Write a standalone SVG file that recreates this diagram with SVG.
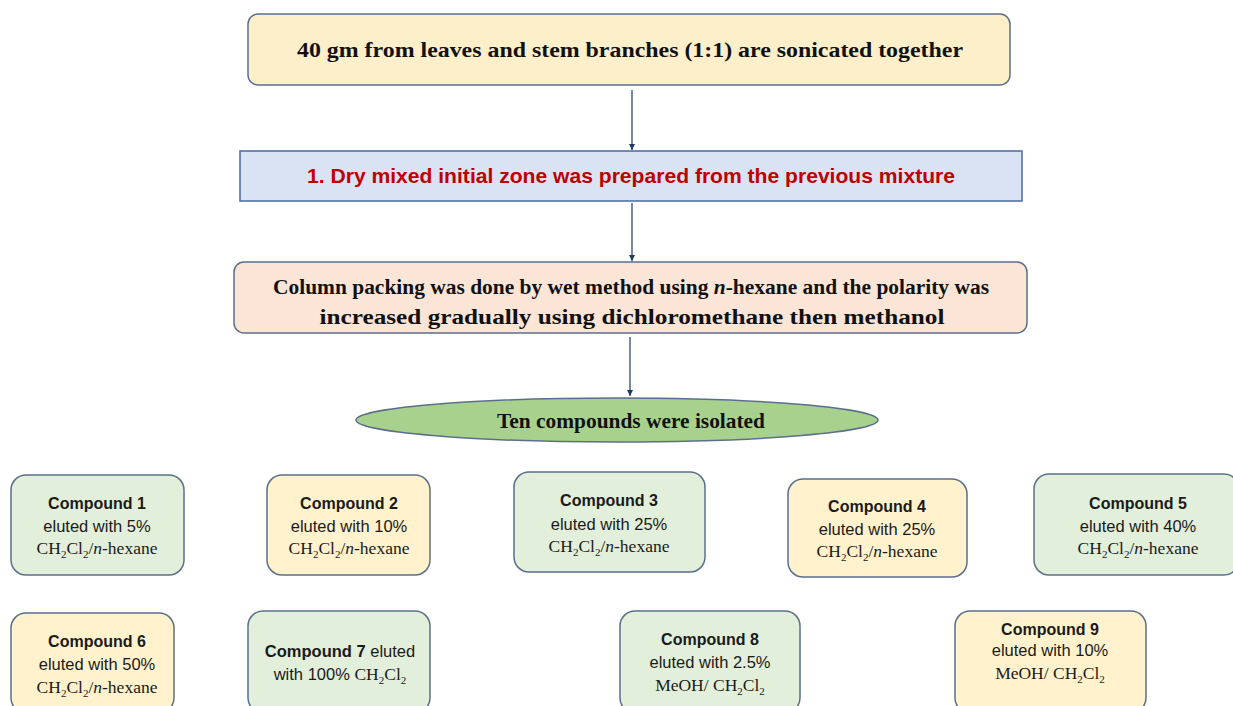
<svg xmlns="http://www.w3.org/2000/svg" width="1233" height="706" viewBox="0 0 1233 706">
<style>
.hdr{font-family:"Liberation Serif",serif;font-weight:bold;font-size:21px;fill:#111;text-anchor:middle}
.red{font-family:"Liberation Sans",sans-serif;font-weight:bold;font-size:20px;fill:#c00000;text-anchor:middle}
.cb{stroke:#5b6f8c;stroke-width:1.5}
.g{fill:#e2efda}
.y{fill:#fff2cc}
.t1{font-family:"Liberation Sans",sans-serif;font-weight:bold;font-size:16px;fill:#1a1a1a;text-anchor:middle}
.t2{font-family:"Liberation Sans",sans-serif;font-size:16.5px;fill:#1a1a1a;text-anchor:middle}
.t3{font-family:"Liberation Serif",serif;font-size:17.5px;fill:#1a1a1a;text-anchor:middle}
.s{font-size:11px}
.conn line{stroke:#1f3864;stroke-width:1.2;marker-end:url(#ah)}
</style>
<defs>
<marker id="ah" viewBox="0 0 10 10" refX="10" refY="5" markerWidth="5" markerHeight="5" orient="auto" markerUnits="strokeWidth">
<path d="M0,0 L10,5 L0,10 z" fill="#1f3864"/>
</marker>
</defs>
<rect width="1233" height="706" fill="#ffffff"/>
<g class="conn">
<line x1="632" y1="90" x2="632" y2="150"/>
<line x1="632" y1="203" x2="632" y2="261"/>
<line x1="630" y1="337" x2="630" y2="396"/>
</g>
<g id="n-start">
<rect x="248" y="14" width="762" height="71" rx="10" fill="#fdefc9" stroke="#5b6f8c" stroke-width="1.5"/>
<text class="hdr" x="630" y="57" textLength="666" lengthAdjust="spacingAndGlyphs">40 gm from leaves and stem branches (1:1) are sonicated together</text>
</g>
<g id="n-dry">
<rect x="240" y="151" width="782" height="50" fill="#dae3f3" stroke="#4a6aa0" stroke-width="1.5"/>
<text class="red" x="631" y="183" textLength="648" lengthAdjust="spacingAndGlyphs">1. Dry mixed initial zone was prepared from the previous mixture</text>
</g>
<g id="n-column">
<rect x="234" y="262" width="793" height="71" rx="10" fill="#fbe5d6" stroke="#5b6f8c" stroke-width="1.5"/>
<text class="hdr" x="631" y="294" textLength="716" lengthAdjust="spacingAndGlyphs">Column packing was done by wet method using <tspan font-style="italic">n</tspan>-hexane and the polarity was</text>
<text class="hdr" x="632" y="324" textLength="625" lengthAdjust="spacingAndGlyphs">increased gradually using dichloromethane then methanol</text>
</g>
<g id="n-ten">
<ellipse cx="617" cy="420" rx="261" ry="22" fill="#a9d18e" stroke="#5b6f8c" stroke-width="1.5"/>
<text class="hdr" x="631" y="428" textLength="268" lengthAdjust="spacingAndGlyphs">Ten compounds were isolated</text>
</g>
<g id="c1">
<rect class="cb g" x="11" y="475" width="173" height="100" rx="15"/>
<text class="t1" x="97" y="509">Compound 1</text>
<text class="t2" x="97" y="532">eluted with 5%</text>
<text class="t3" x="97" y="554">CH<tspan class="s" dy="4">2</tspan><tspan dy="-4">Cl</tspan><tspan class="s" dy="4">2</tspan><tspan dy="-4">/</tspan><tspan font-style="italic">n</tspan>-hexane</text>
</g>
<g id="c2">
<rect class="cb y" x="267" y="475" width="163" height="100" rx="15"/>
<text class="t1" x="349" y="509">Compound 2</text>
<text class="t2" x="349" y="532">eluted with 10%</text>
<text class="t3" x="349" y="554">CH<tspan class="s" dy="4">2</tspan><tspan dy="-4">Cl</tspan><tspan class="s" dy="4">2</tspan><tspan dy="-4">/</tspan><tspan font-style="italic">n</tspan>-hexane</text>
</g>
<g id="c3">
<rect class="cb g" x="514" y="472" width="191" height="100" rx="15"/>
<text class="t1" x="609" y="506">Compound 3</text>
<text class="t2" x="609" y="530">eluted with 25%</text>
<text class="t3" x="609" y="552">CH<tspan class="s" dy="4">2</tspan><tspan dy="-4">Cl</tspan><tspan class="s" dy="4">2</tspan><tspan dy="-4">/</tspan><tspan font-style="italic">n</tspan>-hexane</text>
</g>
<g id="c4">
<rect class="cb y" x="788" y="479" width="179" height="98" rx="15"/>
<text class="t1" x="877" y="512">Compound 4</text>
<text class="t2" x="877" y="535">eluted with 25%</text>
<text class="t3" x="877" y="557">CH<tspan class="s" dy="4">2</tspan><tspan dy="-4">Cl</tspan><tspan class="s" dy="4">2</tspan><tspan dy="-4">/</tspan><tspan font-style="italic">n</tspan>-hexane</text>
</g>
<g id="c5">
<rect class="cb g" x="1034" y="474" width="205" height="101" rx="15"/>
<text class="t1" x="1138" y="509">Compound 5</text>
<text class="t2" x="1138" y="532">eluted with 40%</text>
<text class="t3" x="1138" y="554">CH<tspan class="s" dy="4">2</tspan><tspan dy="-4">Cl</tspan><tspan class="s" dy="4">2</tspan><tspan dy="-4">/</tspan><tspan font-style="italic">n</tspan>-hexane</text>
</g>
<g id="c6">
<rect class="cb y" x="11" y="613" width="163" height="100" rx="15"/>
<text class="t1" x="97" y="647">Compound 6</text>
<text class="t2" x="97" y="670">eluted with 50%</text>
<text class="t3" x="97" y="693">CH<tspan class="s" dy="4">2</tspan><tspan dy="-4">Cl</tspan><tspan class="s" dy="4">2</tspan><tspan dy="-4">/</tspan><tspan font-style="italic">n</tspan>-hexane</text>
</g>
<g id="c7">
<rect class="cb g" x="248" y="611" width="182" height="102" rx="15"/>
<text class="t2" x="340" y="657"><tspan font-weight="bold">Compound 7</tspan> eluted</text>
<text class="t2" x="340" y="680">with 100% <tspan class="t3">CH<tspan class="s" dy="4">2</tspan><tspan dy="-4">Cl</tspan><tspan class="s" dy="4">2</tspan></tspan></text>
</g>
<g id="c8">
<rect class="cb g" x="620" y="611" width="180" height="102" rx="15"/>
<text class="t1" x="710" y="645">Compound 8</text>
<text class="t2" x="710" y="668">eluted with 2.5%</text>
<text class="t3" x="710" y="691">MeOH/ CH<tspan class="s" dy="4">2</tspan><tspan dy="-4">Cl</tspan><tspan class="s" dy="4">2</tspan></text>
</g>
<g id="c9">
<rect class="cb y" x="955" y="611" width="191" height="102" rx="15"/>
<text class="t1" x="1050" y="635">Compound 9</text>
<text class="t2" x="1050" y="656">eluted with 10%</text>
<text class="t3" x="1050" y="679">MeOH/ CH<tspan class="s" dy="4">2</tspan><tspan dy="-4">Cl</tspan><tspan class="s" dy="4">2</tspan></text>
</g>
</svg>
